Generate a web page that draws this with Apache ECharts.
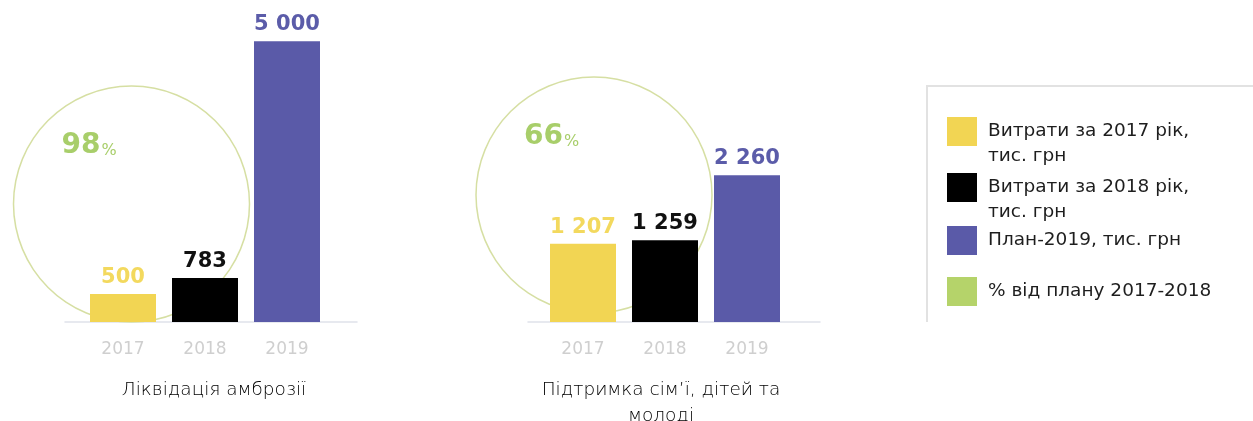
<!DOCTYPE html>
<html>
<head>
<meta charset="utf-8">
<script src="https://cdn.jsdelivr.net/npm/echarts@6/dist/echarts.min.js"></script>
<style>
  html, body { margin: 0; padding: 0; background: #ffffff; }
  #chart { width: 1253px; height: 421px; }
</style>
</head>
<body>
<div id="chart"></div>
<script>
// Years on the category axis
const categories = ['2017', '2018', '2019'];
// Spending, thousand UAH (2017, 2018 actual; 2019 plan)
const ambrosiaValues = [500, 783, 5000];
const familyValues = [1207, 1259, 2260];
// Share of plan executed in 2017-2018, %
const planShare = [98, 66];
// Panel captions
const chartTitles = ['Ліквідація амброзії', 'Підтримка сім’ї, дітей та\nмолоді'];
// Series / legend names
const seriesNames = ['Витрати за 2017 рік, тис. грн', 'Витрати за 2018 рік, тис. грн', 'План-2019, тис. грн'];
const shareName = '% від плану 2017-2018';
const legendLabels = ['Витрати за 2017 рік,\nтис. грн', 'Витрати за 2018 рік,\nтис. грн', 'План-2019, тис. грн', '% від плану 2017-2018'];

const barColors = ['#f2d553', '#000000', '#5a5aa8'];
const labelColors = ['#f3d95e', '#111111', '#5b5ca9'];
const shareColor = '#a8ce6a';
const ringColor = '#d6dfa3';

// Panel layout
const panels = [
  { values: ambrosiaValues, barLeft: 82, axisLeft: 65, ring: [131.5, 204], yMax: 5200, titleX: 214 },
  { values: familyValues, barLeft: 542, axisLeft: 528, ring: [594, 195], yMax: 4500, titleX: 661 }
];
const GRID_TOP = 30, GRID_BOTTOM = 99, RING_R = 118;

const fmt = v => String(v).replace(/\B(?=(\d{3})+(?!\d))/g, ' ');

const grid = [], xAxis = [], yAxis = [], series = [], title = [], graphic = [];

panels.forEach((p, pi) => {
  // grid holding the bars
  grid.push({ left: p.barLeft, width: 246, top: GRID_TOP, bottom: GRID_BOTTOM });
  // wider grid carrying only the baseline
  grid.push({ left: p.axisLeft, width: 292, top: GRID_TOP, bottom: GRID_BOTTOM });
  const gBar = pi * 2, gLine = pi * 2 + 1;

  xAxis.push({
    type: 'category', gridIndex: gBar, data: categories,
    axisLine: { show: false }, axisTick: { show: false },
    axisLabel: { color: '#cfcfcf', fontSize: 17, fontFamily: 'DejaVu Sans', margin: 19 }
  });
  xAxis.push({
    type: 'category', gridIndex: gLine, data: categories,
    axisLine: { lineStyle: { color: '#dfe2ea', width: 1.5 } },
    axisTick: { show: false }, axisLabel: { show: false }
  });
  yAxis.push({ type: 'value', gridIndex: gBar, min: 0, max: p.yMax, show: false });
  yAxis.push({ type: 'value', gridIndex: gLine, min: 0, max: 1, show: false });

  // thin ring around the 2017-2018 bars
  series.push({
    type: 'pie', name: shareName, silent: true, z: 1,
    center: p.ring, radius: [RING_R - 0.75, RING_R + 0.75],
    label: { show: false }, labelLine: { show: false },
    itemStyle: { color: ringColor, borderWidth: 0 },
    data: [{ name: shareName, value: planShare[pi] }]
  });

  seriesNames.forEach((name, si) => {
    series.push({
      type: 'bar', name, xAxisIndex: gBar, yAxisIndex: gBar, z: 2,
      barWidth: 66, barGap: '-100%',
      itemStyle: { color: barColors[si] },
      label: {
        show: true, position: 'top', distance: 6,
        formatter: o => fmt(o.value),
        color: labelColors[si], fontFamily: 'DejaVu Sans', fontWeight: 'bold', fontSize: 21
      },
      data: p.values.map((v, j) => (j === si ? v : '-'))
    });
  });

  title.push({
    text: chartTitles[pi], left: p.titleX, top: 377, textAlign: 'center', padding: 0,
    textStyle: { fontFamily: 'DejaVu Sans', fontWeight: 200, fontSize: 18.5, color: '#000000', lineHeight: 26 }
  });

  graphic.push({
    type: 'text', x: p.ring[0] - 70, y: p.ring[1] - 72, silent: true,
    style: {
      text: '{n|' + planShare[pi] + '}{p|%}',
      rich: {
        n: { fill: shareColor, fontSize: 28, fontWeight: 'bold', fontFamily: 'DejaVu Sans', verticalAlign: 'bottom' },
        p: { fill: shareColor, fontSize: 16, fontFamily: 'DejaVu Sans', verticalAlign: 'bottom', padding: [0, 0, 1, 1] }
      }
    }
  });
});

// legend frame (top and left edges)
graphic.push({
  type: 'polyline', silent: true,
  shape: { points: [[927, 322], [927, 86], [1253, 86]] },
  style: { stroke: '#e2e2e2', lineWidth: 2, fill: null }
});

// one legend block per entry; two-line entries keep their first line level with the swatch
const legendNames = seriesNames.concat([shareName]);
const legendTops = [94, 150, 226, 277];
const legendSwatch = barColors.concat(['#b5d36a']);
const legend = legendNames.map((name, i) => {
  const twoLine = legendLabels[i].indexOf('\n') >= 0;
  return {
    left: 947, top: legendTops[i], padding: 0, orient: 'vertical',
    itemWidth: 30, itemHeight: 29, icon: 'rect', selectedMode: false,
    formatter: () => (twoLine ? '\n' : '') + legendLabels[i],
    textStyle: {
      fontFamily: 'DejaVu Sans', fontSize: 18.5, color: '#1e1e1e', lineHeight: 25,
      padding: [0, 0, 0, 6]
    },
    data: [{ name, itemStyle: { color: legendSwatch[i] } }]
  };
});

const chart = echarts.init(document.getElementById('chart'), null, { renderer: 'canvas' });
chart.setOption({
  animation: false,
  backgroundColor: '#ffffff',
  title, grid, xAxis, yAxis, series, legend, graphic
});
</script>
</body>
</html>
